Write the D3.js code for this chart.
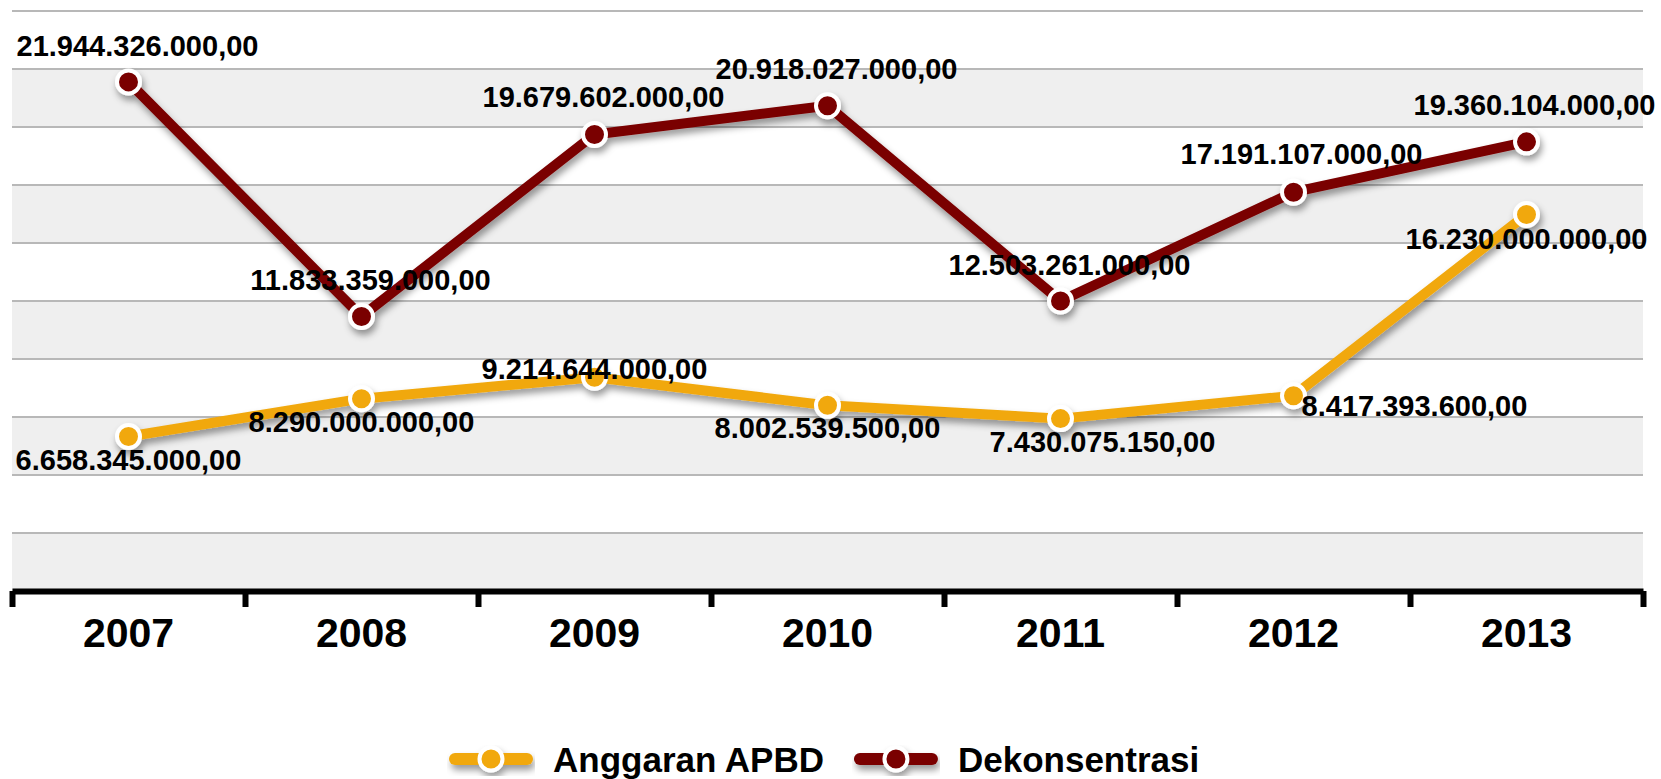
<!DOCTYPE html>
<html>
<head>
<meta charset="utf-8">
<script src="https://cdn.jsdelivr.net/npm/d3@7"></script>
<style>
  body { margin: 0; background: #fff; }
  text { font-family: "Liberation Sans", Arial, sans-serif; font-weight: bold; fill: #000; }
</style>
</head>
<body>
<script>
const years = ['2007', '2008', '2009', '2010', '2011', '2012', '2013']
const anggaranAPBD = [6658345000, 8290000000, 9214644000, 8002539500, 7430075150, 8417393600, 16230000000]
const dekonsentrasi = [21944326000, 11833359000, 19679602000, 20918027000, 12503261000, 17191107000, 19360104000]
const yTicks = [0, 2.5e9, 5e9, 7.5e9, 10e9, 12.5e9, 15e9, 17.5e9, 20e9, 22.5e9, 25e9]

// label nudges (layout only): [dx, baseline offset from marker]
const apbdNudge = [[0, 33], [0, 33], [0, 2], [0, 33], [42, 33], [121, 20], [0, 35]]
const dekNudge = [[9, -26], [9, -26], [9, -27], [9, -27], [9, -26], [8, -28], [8, -27]]

const width = 1661, height = 779
const plotLeft = 12, plotRight = 1643, plotTop = 11, plotBottom = 591

const svg = d3.select('body').append('svg')
    .attr('width', width)
    .attr('height', height)

const defs = svg.append('defs')
defs.append('filter')
    .attr('id', 'shadow')
    .attr('x', '-10%').attr('y', '-10%')
    .attr('width', '120%').attr('height', '130%')
    .append('feDropShadow')
    .attr('dx', 2).attr('dy', 5)
    .attr('stdDeviation', 3.5)
    .attr('flood-color', '#000')
    .attr('flood-opacity', 0.4)

const xScale = d3.scaleBand()
    .domain(years)
    .range([plotLeft, plotRight])

const yScale = d3.scaleLinear()
    .domain([0, 25e9])
    .range([plotBottom, plotTop])

const fmt = d3.formatLocale({ decimal: ',', thousands: '.', grouping: [3], currency: ['Rp', ''] }).format(',.2f')

// alternating bands
const bands = d3.pairs(yTicks)
svg.append('g').selectAll('rect')
    .data(bands)
    .enter().append('rect')
    .attr('x', plotLeft)
    .attr('width', plotRight - plotLeft)
    .attr('y', d => yScale(d[1]))
    .attr('height', d => yScale(d[0]) - yScale(d[1]))
    .style('fill', (d, i) => i % 2 === 0 ? '#efefef' : '#ffffff')

// gridlines
svg.append('g').selectAll('line')
    .data(yTicks.slice(1))
    .enter().append('line')
    .attr('x1', plotLeft)
    .attr('x2', plotRight)
    .attr('y1', d => yScale(d))
    .attr('y2', d => yScale(d))
    .style('stroke', '#b8b8b8')
    .style('stroke-width', 2)

// x axis: thick line with ticks at category boundaries
const edgeScale = d3.scaleLinear().domain([0, years.length]).range([plotLeft, plotRight])
const edgeAxis = svg.append('g')
    .attr('transform', `translate(0, ${plotBottom})`)
    .call(d3.axisBottom(edgeScale).ticks(years.length).tickSize(16).tickSizeOuter(0).tickFormat(''))
edgeAxis.select('.domain').style('stroke', '#000').style('stroke-width', 6)
edgeAxis.selectAll('.tick line').style('stroke', '#000').style('stroke-width', 6)

const labelAxis = svg.append('g')
    .attr('transform', `translate(0, ${plotBottom})`)
    .call(d3.axisBottom(xScale).tickSize(0).tickPadding(0))
labelAxis.select('.domain').remove()
labelAxis.selectAll('text')
    .attr('y', 56)
    .attr('dy', 0)
    .style('font-size', '41px')
    .style('font-family', '"Liberation Sans", Arial, sans-serif')
    .style('font-weight', 'bold')
    .style('fill', '#000')

const series = [
    { name: 'Anggaran APBD', values: anggaranAPBD, color: '#f1a80f', nudge: apbdNudge },
    { name: 'Dekonsentrasi', values: dekonsentrasi, color: '#7a0000', nudge: dekNudge }
]

const cx = i => xScale(years[i]) + xScale.bandwidth() / 2

const line = d3.line()
    .x((d, i) => cx(i))
    .y(d => yScale(d))

const plot = svg.append('g').attr('filter', 'url(#shadow)')
series.forEach(s => {
    const g = plot.append('g')
    g.append('path')
        .datum(s.values)
        .attr('d', line)
        .style('fill', 'none')
        .style('stroke', s.color)
        .style('stroke-width', 10)
        .style('stroke-linejoin', 'round')
    g.selectAll('circle')
        .data(s.values)
        .enter().append('circle')
        .attr('cx', (d, i) => cx(i))
        .attr('cy', d => yScale(d))
        .attr('r', 11.5)
        .style('fill', s.color)
        .style('stroke', '#fff')
        .style('stroke-width', 4)
})

// value labels
series.forEach(s => {
    svg.append('g').selectAll('text')
        .data(s.values)
        .enter().append('text')
        .attr('x', (d, i) => cx(i) + s.nudge[i][0])
        .attr('y', (d, i) => yScale(d) + s.nudge[i][1])
        .style('text-anchor', 'middle')
        .style('font-size', '29px')
        .text(d => fmt(d))
})

// legend
const legend = svg.append('g').attr('transform', 'translate(449, 759)')
let lx = 0
series.forEach(s => {
    const item = legend.append('g').attr('transform', `translate(${lx}, 0)`)
    const sw = item.append('g').attr('filter', 'url(#shadow)')
    sw.append('line')
        .attr('x1', 6).attr('x2', 78)
        .attr('y1', 0).attr('y2', 0)
        .style('stroke', s.color)
        .style('stroke-width', 12)
        .style('stroke-linecap', 'round')
    sw.append('circle')
        .attr('cx', 42).attr('cy', 0)
        .attr('r', 11.5)
        .style('fill', s.color)
        .style('stroke', '#fff')
        .style('stroke-width', 4)
    const t = item.append('text')
        .attr('x', 104)
        .attr('y', 12.5)
        .style('font-size', '35px')
        .text(s.name)
    lx += 104 + t.node().getComputedTextLength() + 30
})
</script>
</body>
</html>
